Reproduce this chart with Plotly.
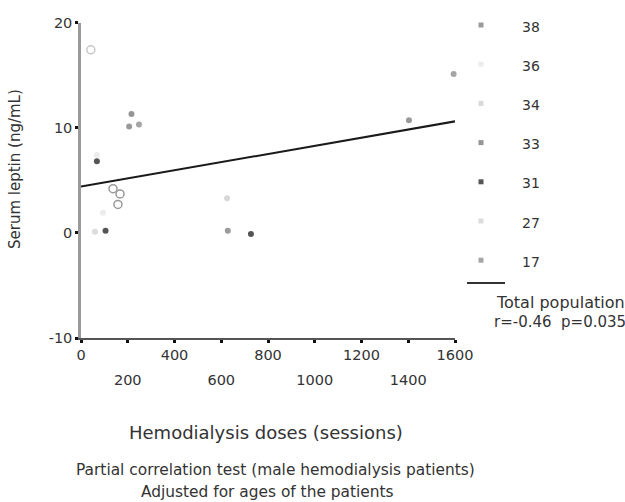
import plotly.graph_objects as go

# ---- data ----
dose = [42, 68, 68, 216, 206, 248, 137, 167, 158, 94, 60, 105, 625, 628, 727, 1403, 1594]
leptin = [17.4, 6.8, 7.4, 11.3, 10.1, 10.3, 4.2, 3.7, 2.7, 1.9, 0.1, 0.2, 3.3, 0.2, -0.1, 10.7, 15.1]
age = ["36", "31", "36", "33", "38", "17", "34", "34", "34", "36", "27", "31", "34", "38", "31", "38", "17"]
open_marker = [True, False, False, False, False, False, True, True, True, False, False, False, False, False, False, False, False]

legend_ages = ["38", "36", "34", "33", "31", "27", "17"]
age_colors = {"38": "#9a9a9a", "36": "#ececec", "34": "#d8d8d8", "33": "#959595",
              "31": "#555555", "27": "#dcdcdc", "17": "#a5a5a5"}

fit_x = [0, 1600]
fit_y = [4.4, 10.6]

x_ticks_top = [0, 400, 800, 1200, 1600]
x_ticks_bottom = [200, 600, 1000, 1400]
y_ticks = [-10, 0, 10, 20]
y_ticklabels = ["-10", "0", "10", "20"]

W, H = 625, 502
def px(x):
    return x / W
def py(y):
    return 1 - y / H

FONT = "DejaVu Sans, Verdana, sans-serif"
TXT = "#333333"

fig = go.Figure()

# data points
for is_open in (False, True):
    xs = [d for d, o in zip(dose, open_marker) if o == is_open]
    ys = [l for l, o in zip(leptin, open_marker) if o == is_open]
    cs = [age_colors[a] for a, o in zip(age, open_marker) if o == is_open]
    if is_open:
        cs = ["#9a9a9a" if a == "34" else "#c8c8c8" for a, o in zip(age, open_marker) if o]
    fig.add_trace(go.Scatter(
        x=xs, y=ys, mode="markers", showlegend=False, cliponaxis=False,
        marker=dict(symbol="circle-open" if is_open else "circle",
                    size=8 if is_open else 6, color=cs,
                    line=dict(width=1.5 if is_open else 0, color=cs)),
    ))

# regression line
fig.add_trace(go.Scatter(x=fit_x, y=fit_y, mode="lines", showlegend=False,
                         line=dict(color="#1a1a1a", width=2)))

# invisible trace on secondary x axis for staggered labels
fig.add_trace(go.Scatter(x=fit_x, y=fit_y, xaxis="x2", mode="none", showlegend=False, hoverinfo="skip"))

# key on the right side (index-positioned rows)
idx = list(range(len(legend_ages)))
row_top, row_step = 25, 39.2          # pixel position of first row and row spacing
key_top_px, key_bot_px = 10, 300      # pixel extent of the key's axis domain
fig.add_trace(go.Scatter(
    x=[481] * len(legend_ages), y=idx, xaxis="x3", yaxis="y3", mode="markers",
    showlegend=False, cliponaxis=False,
    marker=dict(symbol="square", size=5, color=[age_colors[a] for a in legend_ages])))
fig.add_trace(go.Scatter(
    x=[522] * len(legend_ages), y=[i + 0.08 for i in idx], xaxis="x3", yaxis="y3",
    mode="text", text=legend_ages, textposition="middle right", showlegend=False,
    cliponaxis=False, textfont=dict(family=FONT, size=14, color=TXT)))

axis_font = dict(family=FONT, size=14.5, color=TXT)

fig.update_layout(
    template="none",
    width=W, height=H, margin=dict(l=0, r=0, t=0, b=0, pad=0), autosize=False,
    showlegend=False,
    paper_bgcolor="white", plot_bgcolor="rgba(0,0,0,0)",
    xaxis=dict(domain=[px(81), px(455)], range=[0, 1600], anchor="y", automargin=False,
               tickvals=x_ticks_top + x_ticks_bottom,
               ticktext=[str(v) for v in x_ticks_top] + [""] * len(x_ticks_bottom),
               ticks="outside", ticklen=3, tickwidth=3, tickcolor="#111",
               showline=True, linecolor="#555", linewidth=2,
               showgrid=False, zeroline=False, tickfont=axis_font),
    xaxis2=dict(overlaying="x", matches="x", anchor="y", side="bottom", automargin=False,
                tickvals=x_ticks_bottom, ticktext=[str(v) for v in x_ticks_bottom],
                ticks="", showline=False, showgrid=False, zeroline=False,
                ticklabelstandoff=31, tickfont=axis_font),
    yaxis=dict(domain=[py(338), py(22.5)], range=[-10, 20], anchor="x", automargin=False,
               tickvals=y_ticks, ticktext=y_ticklabels,
               ticks="outside", ticklen=3, tickwidth=3, tickcolor="#111",
               showline=True, linecolor="#9a9a9a", linewidth=2.5,
               showgrid=False, zeroline=False, tickfont=axis_font),
    xaxis3=dict(domain=[px(460), 1], range=[460, W], anchor="y3", visible=False, automargin=False),
    yaxis3=dict(domain=[py(key_bot_px), py(key_top_px)],
                range=[(key_bot_px - row_top) / row_step, (key_top_px - row_top) / row_step],
                anchor="x3", visible=False, automargin=False),
    shapes=[dict(type="line", xref="paper", yref="paper",
                 x0=px(467), x1=px(505), y0=py(283), y1=py(283),
                 line=dict(color="#333", width=2))],
    annotations=[
        dict(text="Serum leptin (ng/mL)", x=px(15), y=py(169), xref="paper", yref="paper",
             textangle=-90, showarrow=False, font=dict(family=FONT, size=15, color=TXT),
             xanchor="center", yanchor="middle"),
        dict(text="Hemodialysis doses (sessions)", x=px(266), y=py(432), xref="paper", yref="paper",
             showarrow=False, font=dict(family=FONT, size=18, color=TXT),
             xanchor="center", yanchor="middle"),
        dict(text="Partial correlation test (male hemodialysis patients)", x=px(275), y=py(470),
             xref="paper", yref="paper", showarrow=False,
             font=dict(family=FONT, size=15.4, color=TXT), xanchor="center", yanchor="middle"),
        dict(text="Adjusted for ages of the patients", x=px(267), y=py(492),
             xref="paper", yref="paper", showarrow=False,
             font=dict(family=FONT, size=15.4, color=TXT), xanchor="center", yanchor="middle"),
        dict(text="Total population", x=px(494), y=py(302), xref="paper", yref="paper",
             showarrow=False, font=dict(family=FONT, size=16, color=TXT),
             xanchor="left", yanchor="middle"),
        dict(text="r=-0.46  p=0.035", x=px(492), y=py(322), xref="paper", yref="paper",
             showarrow=False, font=dict(family=FONT, size=15, color=TXT),
             xanchor="left", yanchor="middle"),
    ],
)

fig.write_html("out.html")
